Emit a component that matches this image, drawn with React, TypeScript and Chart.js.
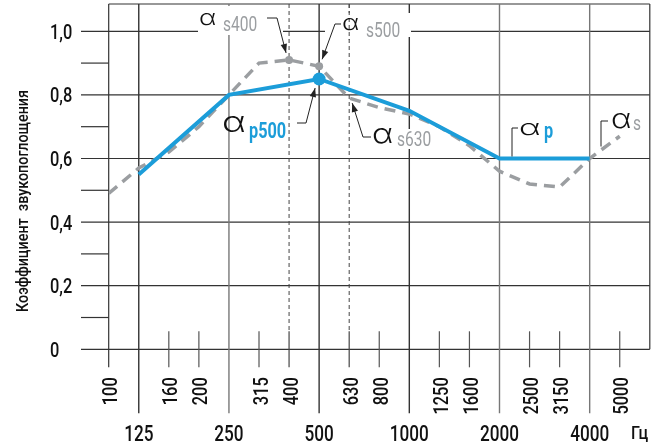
import React, { useEffect, useRef } from 'react';
import { Chart, registerables } from 'chart.js';

Chart.register(...registerables);

// ---- data ----
const bands = ['100', '125', '160', '200', '250', '315', '400', '500', '630', '800', '1000', '1250', '1600', '2000', '2500', '3150', '4000', '5000'];
const octaveIdx = [1, 4, 7, 10, 13, 16];
const dashedIdx = [6, 8];
const alphaS = [0.49, 0.57, 0.62, 0.70, 0.80, 0.90, 0.91, 0.89, 0.79, 0.76, 0.74, 0.70, 0.64, 0.56, 0.52, 0.51, 0.60, 0.67];
const alphaP: (number | null)[] = [null, 0.55, null, null, 0.80, null, null, 0.85, null, null, 0.75, null, null, 0.60, null, null, 0.60, null];
const yMajor = [0, 0.2, 0.4, 0.6, 0.8, 1.0];
const yMajorLabels = ['0', '0,2', '0,4', '0,6', '0,8', '1,0'];
const yMinor = [0.1, 0.3, 0.5, 0.7, 0.9];
const unitLabel = 'Гц';
const yTitle = 'Коэффициент  звукопоглощения';

const FONT = "Roboto, 'Liberation Sans', sans-serif";
const ALPHA_FONT = "Inter, 'Noto Sans', 'DejaVu Sans', sans-serif";
const SX = 0.78;
const BLUE = '#1c9dd9';
const GRAY = '#9b9ea1';
const LINE = '#333';

type TxtOpts = { align?: CanvasTextAlign; baseline?: CanvasTextBaseline; color?: string; weight?: string; sx?: number; rot?: number; family?: string };
function txt(ctx: CanvasRenderingContext2D, s: string, x: number, y: number, size: number, o: TxtOpts = {}) {
  ctx.save();
  ctx.font = `${o.weight || 'normal'} ${size}px ${o.family || FONT}`;
  ctx.fillStyle = o.color || '#111';
  ctx.textAlign = o.align || 'left';
  ctx.textBaseline = o.baseline || 'alphabetic';
  ctx.translate(x, y);
  if (o.rot) ctx.rotate(o.rot);
  ctx.scale(o.sx ?? SX, 1);
  ctx.fillText(s, 0, 0);
  ctx.restore();
}

function arrowHead(ctx: CanvasRenderingContext2D, fx: number, fy: number, tx: number, ty: number) {
  const len = 9, w = 3.2;
  const a = Math.atan2(ty - fy, tx - fx);
  ctx.beginPath();
  ctx.moveTo(tx, ty);
  ctx.lineTo(tx - len * Math.cos(a) + w * Math.sin(a), ty - len * Math.sin(a) - w * Math.cos(a));
  ctx.lineTo(tx - len * Math.cos(a) - w * Math.sin(a), ty - len * Math.sin(a) + w * Math.cos(a));
  ctx.closePath();
  ctx.fill();
}

function leader(ctx: CanvasRenderingContext2D, pts: number[][], arrow: boolean) {
  ctx.save();
  ctx.strokeStyle = '#222';
  ctx.fillStyle = '#222';
  ctx.lineWidth = 1;
  ctx.beginPath();
  pts.forEach((p, i) => (i ? ctx.lineTo(p[0], p[1]) : ctx.moveTo(p[0], p[1])));
  ctx.stroke();
  if (arrow) {
    const a = pts[pts.length - 2], b = pts[pts.length - 1];
    arrowHead(ctx, a[0], a[1], b[0], b[1]);
  }
  ctx.restore();
}

function alphaLabel(ctx: CanvasRenderingContext2D, x: number, base: number, size: number, asx: number, sub: string, subColor: string, subBold: boolean, subX: number, subBase: number, subSize: number) {
  txt(ctx, 'α', x, base, size, { family: ALPHA_FONT, weight: '300', sx: asx, color: '#111' });
  txt(ctx, sub, subX, subBase, subSize, { color: subColor, weight: subBold ? 'bold' : 'normal', sx: 0.74 });
}

const gridPlugin = {
  id: 'acousticGrid',
  beforeDatasetsDraw(chart: any) {
    const { ctx, chartArea } = chart;
    const xs = chart.scales.x;
    const ys = chart.scales.y;
    const { left, right, top, bottom } = chartArea;
    ctx.save();
    ctx.lineWidth = 1.2;
    ctx.strokeStyle = LINE;
    yMajor.forEach((v) => {
      const y = ys.getPixelForValue(v);
      ctx.beginPath();
      ctx.moveTo(81, y);
      ctx.lineTo(right, y);
      ctx.stroke();
    });
    yMinor.forEach((v) => {
      const y = ys.getPixelForValue(v);
      ctx.beginPath();
      ctx.moveTo(81, y);
      ctx.lineTo(left, y);
      ctx.stroke();
    });
    ctx.beginPath();
    ctx.moveTo(left, top);
    ctx.lineTo(right, top);
    ctx.stroke();
    const shortTop = bottom - 18;
    const shortBot = bottom + 18;
    const longBot = bottom + 64;
    bands.forEach((b, i) => {
      const x = xs.getPixelForValue(i);
      ctx.setLineDash([]);
      if (i === 0) {
        ctx.strokeStyle = LINE;
        ctx.beginPath(); ctx.moveTo(x, top); ctx.lineTo(x, shortBot); ctx.stroke();
      } else if (octaveIdx.includes(i)) {
        ctx.strokeStyle = (i === 4 || i >= 13) ? '#777' : LINE;
        ctx.lineWidth = 1.4;
        ctx.beginPath(); ctx.moveTo(x, top); ctx.lineTo(x, longBot); ctx.stroke();
        ctx.lineWidth = 1.2;
      } else if (dashedIdx.includes(i)) {
        ctx.strokeStyle = '#444';
        ctx.lineWidth = 1;
        ctx.setLineDash([4, 3]);
        ctx.beginPath(); ctx.moveTo(x, top); ctx.lineTo(x, shortTop); ctx.stroke();
        ctx.setLineDash([]);
        ctx.lineWidth = 1.2;
        ctx.beginPath(); ctx.moveTo(x, shortTop); ctx.lineTo(x, shortBot); ctx.stroke();
      } else {
        ctx.strokeStyle = '#555';
        ctx.beginPath(); ctx.moveTo(x, shortTop); ctx.lineTo(x, shortBot); ctx.stroke();
      }
    });
    const xr = xs.getPixelForValue(bands.length);
    ctx.strokeStyle = LINE;
    ctx.beginPath(); ctx.moveTo(xr, top); ctx.lineTo(xr, bottom); ctx.stroke();
    // white boxes behind the labels
    ctx.fillStyle = '#fff';
    ctx.fillRect(198, top + 2, 85, 29);
    ctx.fillRect(325, 13, 86, 24);
    ctx.fillRect(396, 129, 36, 20);
    const x630 = xs.getPixelForValue(8);
    ctx.strokeStyle = '#444';
    ctx.lineWidth = 1;
    ctx.setLineDash([4, 3]);
    ctx.beginPath(); ctx.moveTo(x630, top); ctx.lineTo(x630, 40); ctx.stroke();
    ctx.restore();
  },
  afterDraw(chart: any) {
    const { ctx, chartArea } = chart;
    const xs = chart.scales.x;
    const ys = chart.scales.y;
    const { bottom } = chartArea;
    yMajor.forEach((v, k) => {
      txt(ctx, yMajorLabels[k], 50, ys.getPixelForValue(v) + 7.5, 21, { weight: '500' });
    });
    bands.forEach((b, i) => {
      const x = xs.getPixelForValue(i);
      if (octaveIdx.includes(i)) {
        txt(ctx, b, x, bottom + 92, 22, { align: 'center', weight: '500' });
      } else {
        txt(ctx, b, x + 8.5, bottom + 28, 21, { align: 'right', rot: -Math.PI / 2, weight: '500' });
      }
    });
    txt(ctx, unitLabel, 631, bottom + 90, 19, { sx: 0.85, weight: '500' });
    ctx.save();
    ctx.font = `500 16px ${FONT}`;
    const w = ctx.measureText(yTitle).width;
    ctx.restore();
    txt(ctx, yTitle, 28, 201, 16, { align: 'center', rot: -Math.PI / 2, sx: 222 / w, weight: '500' });

    const px = (i: number) => xs.getPixelForValue(i);
    const py = (v: number) => ys.getPixelForValue(v);
    // s400
    alphaLabel(ctx, 199, 25, 22, 1.2, 's400', GRAY, false, 223, 31, 21);
    leader(ctx, [[267, 18], [277, 18], [px(6) - 3, py(alphaS[6]) - 7]], true);
    // s500
    alphaLabel(ctx, 342, 30, 22, 1.2, 's500', GRAY, false, 366, 37, 21);
    leader(ctx, [[341, 24], [335, 24], [px(7) + 3, py(alphaS[7]) - 7]], true);
    // p500
    alphaLabel(ctx, 222, 132, 28, 1.3, 'p500', BLUE, true, 249, 138, 22);
    leader(ctx, [[297, 123], [306, 123], [px(7) - 4, py(alphaP[7] as number) + 9]], true);
    // s630
    alphaLabel(ctx, 372, 143, 27, 1.2, 's630', GRAY, false, 397, 146, 21);
    leader(ctx, [[371, 137], [363, 137], [px(8) + 3, py(alphaS[8]) + 5]], true);
    // p
    alphaLabel(ctx, 519, 135, 22, 1.5, 'p', BLUE, true, 544, 138, 22);
    leader(ctx, [[512, py(0.6) - 2], [512, 128], [518, 128]], false);
    // s
    alphaLabel(ctx, 611, 128, 26, 1.2, 's', GRAY, false, 633, 130, 21);
    leader(ctx, [[601, py(alphaS[16]) - 12], [601, 121], [608, 121]], false);
  },
};

export default function App() {
  const ref = useRef<HTMLCanvasElement | null>(null);
  useEffect(() => {
    if (!ref.current) return;
    const sData = alphaS.map((v, i) => ({ x: i, y: v }));
    const pData = alphaP.map((v, i) => ({ x: i, y: v })).filter((d) => d.y !== null);
    const chart = new Chart(ref.current, {
      type: 'line',
      data: {
        datasets: [
          {
            label: 'αp',
            data: pData as any,
            borderColor: BLUE,
            backgroundColor: BLUE,
            borderWidth: 4,
            pointRadius: (c: any) => (c.raw && c.raw.x === 7 ? 6.5 : 0),
            pointBorderWidth: 0,
            tension: 0,
          },
          {
            label: 'αs',
            data: sData as any,
            borderColor: GRAY,
            backgroundColor: GRAY,
            borderWidth: 3.5,
            borderDash: [11, 7],
            pointRadius: (c: any) => (c.raw && (c.raw.x === 6 || c.raw.x === 7) ? 4 : 0),
            pointBorderWidth: 0,
            tension: 0,
          },
        ],
      },
      options: {
        responsive: false,
        animation: false,
        events: [],
        layout: { padding: { left: 108.7, right: 10.2, top: 4, bottom: 95.7 } },
        plugins: { legend: { display: false }, tooltip: { enabled: false } },
        scales: {
          x: { type: 'linear', min: 0, max: bands.length, display: false },
          y: { type: 'linear', min: 0, max: 1.0858, display: false },
        },
      },
      plugins: [gridPlugin],
    });
    return () => chart.destroy();
  }, []);
  return (
    <div style={{ position: 'fixed', left: 0, top: 0, width: 660, height: 445, background: '#fff' }}>
      <canvas ref={ref} width={660} height={445} />
    </div>
  );
}
